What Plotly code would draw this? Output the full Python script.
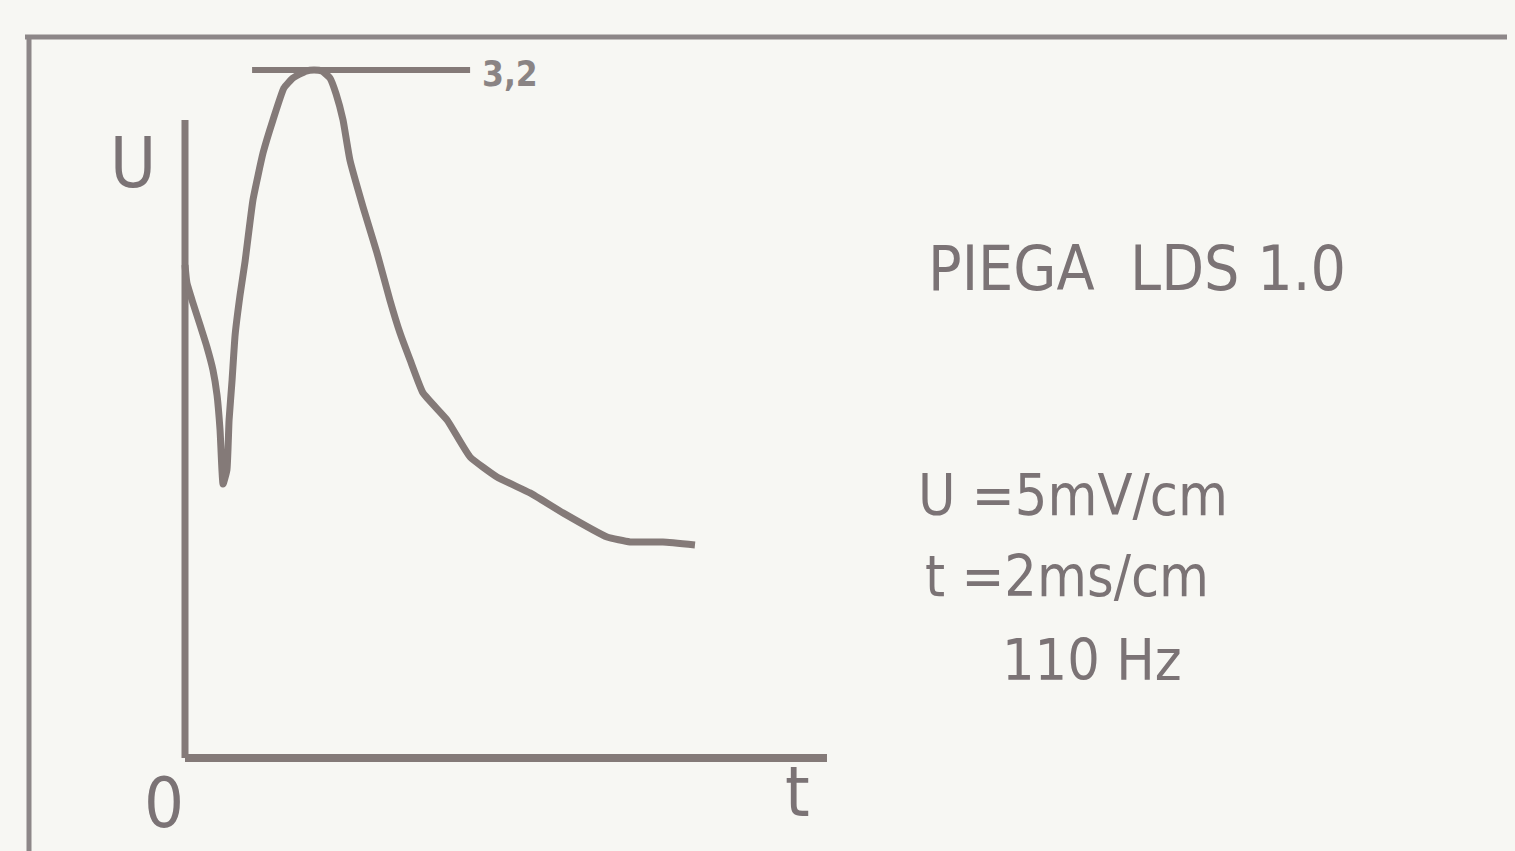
import plotly.graph_objects as go

# ---- data (t and U in screen divisions; peak U = 3.2) ----
t_vals = [0.000, 0.009, 0.037, 0.070, 0.102, 0.130, 0.149, 0.163, 0.177,
          0.195, 0.205, 0.219, 0.233, 0.256, 0.279, 0.316, 0.363, 0.409,
          0.460, 0.502, 0.563, 0.600, 0.637, 0.674, 0.703, 0.735, 0.767,
          0.828, 0.893, 0.953, 1.000, 1.047, 1.107, 1.219, 1.326, 1.451,
          1.605, 1.758, 1.963, 2.070, 2.223, 2.372]
u_vals = [2.293, 2.209, 2.116, 2.014, 1.912, 1.805, 1.688, 1.526, 1.274,
          1.340, 1.572, 1.758, 1.967, 2.153, 2.307, 2.595, 2.814, 2.967,
          3.116, 3.163, 3.195, 3.200, 3.195, 3.163, 3.088, 2.967, 2.781,
          2.563, 2.349, 2.130, 1.977, 1.851, 1.698, 1.572, 1.400, 1.307,
          1.233, 1.140, 1.028, 1.005, 1.005, 0.991]
peak_value = 3.2
peak_label = "3,2"
peak_line_t = [0.312, 1.326]
u_axis_top = 2.967
t_axis_end = 2.986
axis_labels = {"U": (-0.242, 2.767), "0": (-0.098, -0.209), "t": (2.847, -0.160)}
title_text = "PIEGA\u00a0 LDS 1.0"
info_lines = ["U =5mV/cm", "t =2ms/cm", "110 Hz"]

INK = "#847a78"
TXT = "#7b7375"
BG = "#f7f7f3"
FONT = "DejaVu Sans Condensed, Liberation Sans Narrow, sans-serif"

# page offset (browser body margin) and figure size
OFF = 8
W, H = 1515 - OFF, 851 - OFF
S = 215.0          # pixels per division
X0, Y0 = 185, 758  # screen position of the origin


def px(x):
    return (x - OFF) / W


def py(y):
    return 1 - (y - OFF) / H


fig = go.Figure()

# the trace
fig.add_trace(go.Scatter(
    x=t_vals, y=u_vals, mode="lines",
    line=dict(color=INK, width=7, shape="spline", smoothing=0.4),
    hoverinfo="skip", showlegend=False))

# peak marker line at 3.2
fig.add_trace(go.Scatter(
    x=peak_line_t, y=[peak_value, peak_value], mode="lines",
    line=dict(color=INK, width=6), hoverinfo="skip", showlegend=False))

# axes
fig.add_shape(type="line", x0=0, y0=0, x1=0, y1=u_axis_top,
              line=dict(color=INK, width=7), layer="below")
fig.add_shape(type="line", x0=0, y0=0, x1=t_axis_end, y1=0,
              line=dict(color=INK, width=8), layer="below")

# outer frame (top and left border)
fig.add_shape(type="line", xref="paper", yref="paper",
              x0=px(25), y0=py(37), x1=1.0, y1=py(37),
              line=dict(color="#8d8788", width=5))
fig.add_shape(type="line", xref="paper", yref="paper",
              x0=px(29), y0=py(35), x1=px(29), y1=0.0,
              line=dict(color="#8d8788", width=5))

# axis labels
for txt, (tx, uy) in axis_labels.items():
    fig.add_annotation(x=tx, y=uy, text=txt, showarrow=False,
                       xanchor="center", yanchor="middle",
                       font=dict(family=FONT, size=70, color=TXT))

# peak value label
fig.add_annotation(x=peak_line_t[1] + 0.045, y=peak_value - 0.02,
                   text="<b>" + peak_label + "</b>",
                   showarrow=False, xanchor="left", yanchor="middle",
                   font=dict(family=FONT, size=35, color="#8a8484"))

# right-hand text block
fig.add_annotation(xref="paper", yref="paper", x=px(926), y=py(268),
                   text=title_text, showarrow=False, xanchor="left", yanchor="middle",
                   font=dict(family=FONT, size=62, color=TXT))
info_pos = [(916, 495), (923, 576), (1000, 660)]
for line, (qx, qy) in zip(info_lines, info_pos):
    fig.add_annotation(xref="paper", yref="paper", x=px(qx), y=py(qy),
                       text=line, showarrow=False, xanchor="left", yanchor="middle",
                       font=dict(family=FONT, size=57, color=TXT))

fig.update_layout(
    width=W, height=H,
    margin=dict(l=0, r=0, t=0, b=0),
    paper_bgcolor=BG, plot_bgcolor=BG,
    xaxis=dict(range=[(OFF - X0) / S, (1515 - X0) / S], visible=False, fixedrange=True),
    yaxis=dict(range=[(Y0 - 851) / S, (Y0 - OFF) / S], visible=False, fixedrange=True),
    showlegend=False,
)

fig.write_html("out.html", post_script="document.body.style.background='" + BG + "';")
